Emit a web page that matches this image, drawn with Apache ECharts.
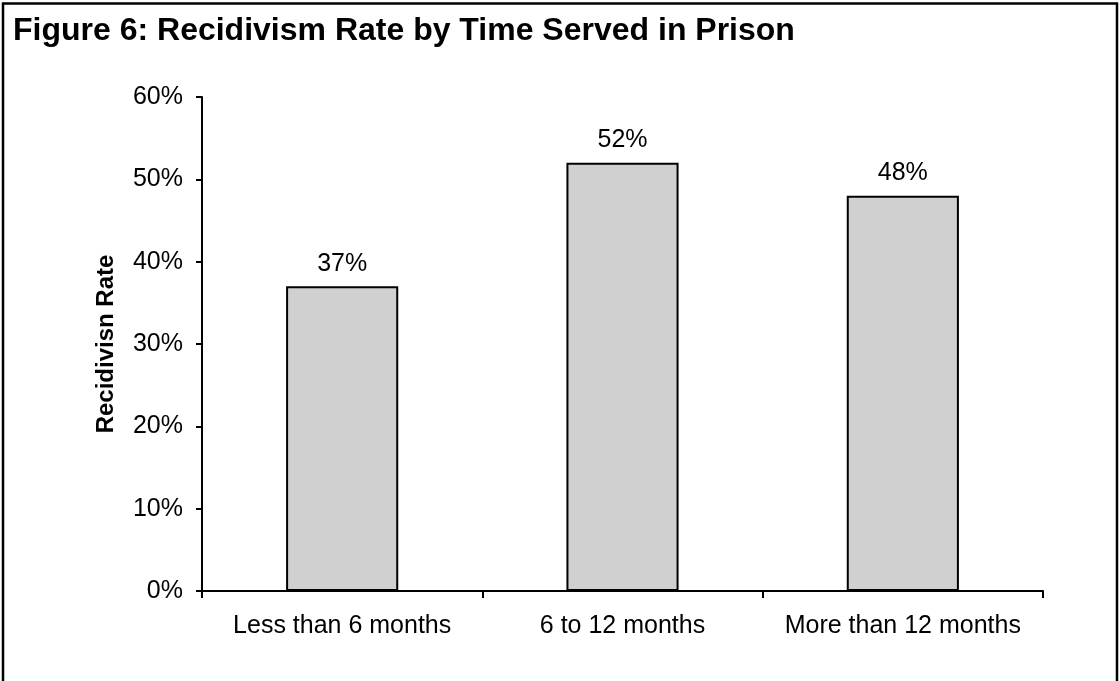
<!DOCTYPE html>
<html><head><meta charset="utf-8">
<script src="https://cdn.jsdelivr.net/npm/echarts@6/dist/echarts.min.js"></script>
<style>html,body{margin:0;padding:0;background:#fff}#c{width:1120px;height:681px}</style>
</head><body><div id="c"></div>
<script>
const categories = ['Less than 6 months', '6 to 12 months', 'More than 12 months'];
const rates = [37, 52, 48];
const yTicks = [0, 10, 20, 30, 40, 50, 60];

const chart = echarts.init(document.getElementById('c'), null, {renderer: 'canvas'});
const font = 'Liberation Sans, Arial, sans-serif';
chart.setOption({
  animation: false,
  backgroundColor: '#fff',
  title: {
    text: 'Figure 6: Recidivism Rate by Time Served in Prison',
    left: 8, top: 10,
    textStyle: {fontFamily: font, fontSize: 32, fontWeight: 'bold', color: '#000'}
  },
  graphic: [{
    type: 'rect', shape: {x: 3, y: 3.5, width: 1114, height: 700},
    style: {fill: 'none', stroke: '#000', lineWidth: 2.5}
  }],
  grid: {left: 202, right: 77, top: 97, bottom: 90},
  xAxis: {
    type: 'category', data: categories,
    axisLine: {lineStyle: {color: '#000', width: 2}},
    axisTick: {show: true, inside: false, length: 7, interval: 0, lineStyle: {color: '#000', width: 2}},
    axisLabel: {fontFamily: font, fontSize: 25, color: '#000', margin: 23, interval: 0, hideOverlap: false}
  },
  yAxis: {
    type: 'value', min: 0, max: 60, interval: 10,
    name: 'Recidivisn Rate', nameLocation: 'middle', nameGap: 84, nameRotate: 90,
    nameTextStyle: {fontFamily: font, fontSize: 24, fontWeight: 'bold', color: '#000'},
    axisLine: {show: true, lineStyle: {color: '#000', width: 2}},
    axisTick: {show: true, inside: false, length: 6, lineStyle: {color: '#000', width: 2}},
    splitLine: {show: false},
    axisLabel: {fontFamily: font, fontSize: 25, color: '#000', margin: 19,
      formatter: v => yTicks.includes(v) ? v + '%' : ''}
  },
  series: [{
    type: 'bar', data: rates, barWidth: '40%',
    itemStyle: {color: '#d0d0d0', borderColor: '#000', borderWidth: 2},
    label: {show: true, position: 'top', distance: 10, formatter: p => p.value + '%',
      fontFamily: font, fontSize: 25, color: '#000'}
  }]
});
</script></body></html>
